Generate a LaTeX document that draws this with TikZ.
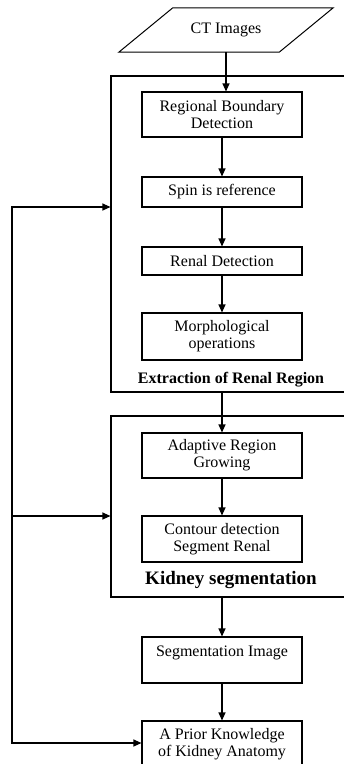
\documentclass[tikz,border=0pt]{standalone}
\usepackage{fontspec}
\setmainfont{Liberation Serif}
\usetikzlibrary{arrows.meta}

\tikzset{
  stage/.style={draw, line width=1.1pt, minimum width=160pt, align=center,
    inner sep=2pt, font=\fontsize{16}{17}\selectfont},
  group/.style={draw, line width=1.1pt},
  grouplabel/.style={inner sep=0pt},
  flow/.style={line width=1.1pt, -{Triangle[length=8pt,width=7pt]}},
}

\begin{document}
\begin{tikzpicture}[x=1pt, y=-1pt]
            \useasboundingbox (0, 0) rectangle (344, 764);

            \node[minimum width=160pt, minimum height=44pt, inner sep=0pt,
              font=\fontsize{16}{17}\selectfont] (ct) at (226, 30) {CT Images};
            \draw[line width=1pt] ([xshift=-27pt]ct.south west) -- ([xshift=27pt]ct.north west)
              -- ([xshift=27pt]ct.north east) -- ([xshift=-27pt]ct.south east) -- cycle;

            \node[group, minimum width=250pt, minimum height=316pt] (extract) at (236, 234) {};
            \node[group, minimum width=250pt, minimum height=181pt] (kidney) at (236, 506.5) {};

            \node[stage, minimum height=45pt] (rbd) at (222, 114.5) {Regional Boundary\\Detection};
            \node[stage, minimum height=30pt] (spin) at (222, 192) {Spin is reference};
            \node[stage, minimum height=28pt] (renal) at (222, 261) {Renal Detection};
            \node[stage, minimum height=47pt] (morph) at (222, 336.5) {Morphological\\operations};
            \node[grouplabel, font=\bfseries\fontsize{16}{17}\selectfont] (extractlbl) at (231, 380) {Extraction of Renal Region};

            \node[stage, minimum height=45pt] (arg) at (222, 455.5) {Adaptive Region\\Growing};
            \node[stage, minimum height=46pt] (contour) at (222, 539) {Contour detection\\Segment Renal};
            \node[grouplabel, font=\bfseries\fontsize{19}{20}\selectfont] (kidneylbl) at (231, 580) {Kidney segmentation};

            \node[stage, minimum height=46pt] (seg) at (222, 660) {Segmentation Image\\\mbox{}};
            \node[stage, minimum height=46pt] (prior) at (222, 744) {A Prior Knowledge\\of Kidney Anatomy};

            \coordinate (fbtop) at (12, 207);
            \coordinate (fbmid) at (12, 516);
            \coordinate (fbbot) at (12, 743);

            % main flow
            \draw[flow] (ct.south) to[] (ct.south |- rbd.north);
            \draw[flow] (rbd) to[] (spin);
            \draw[flow] (spin) to[] (renal);
            \draw[flow] (renal) to[] (morph);
            \draw[flow] (arg |- extract.south) to[] (arg);
            \draw[flow] (arg) to[] (contour);
            \draw[flow] (seg |- kidney.south) to[] (seg);
            \draw[flow] (seg) to[] (prior);

            % feedback
            \draw[flow] (fbbot) -- (fbtop) -- (extract.west |- fbtop);
            \draw[flow] (fbtop) -- (fbbot) -- (prior.west |- fbbot);
            \draw[flow] (fbmid) -- (kidney.west |- fbmid);
        \end{tikzpicture}
\end{document}
